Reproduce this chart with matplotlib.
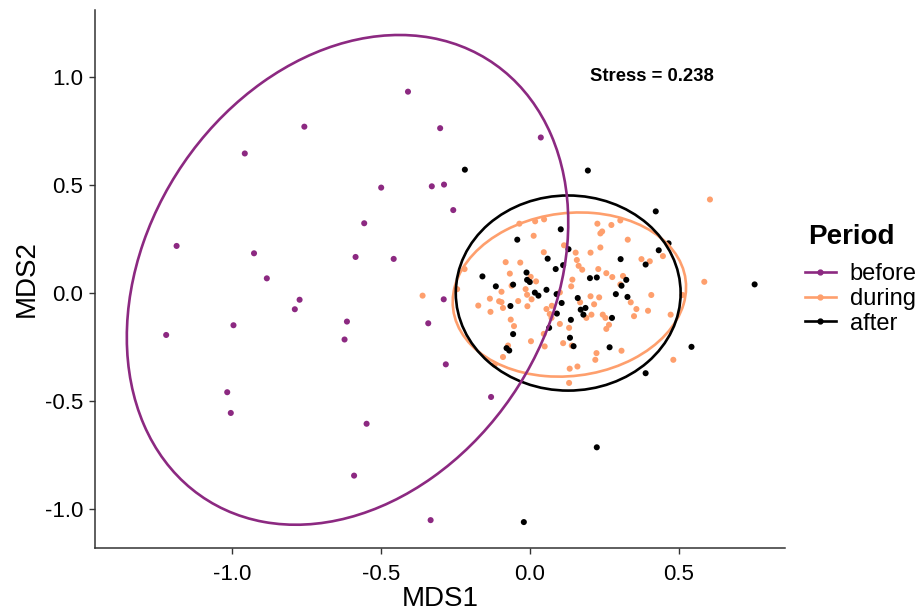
import matplotlib
matplotlib.use("Agg")
import matplotlib.pyplot as plt
from matplotlib.patches import Ellipse
from matplotlib.lines import Line2D

plt.rcParams['font.family'] = ['Liberation Sans', 'DejaVu Sans']

periods = ["before", "during", "after"]
colors = {"before": "#8C2981", "during": "#FE9F6D", "after": "#000000"}

before_x = [-0.409, -0.757, -0.301, -0.957, -0.499, -0.329, -0.288, -0.556, -1.186, -0.926,
            -0.585, -0.457, -0.883, 0.037, -0.257, -0.773, -0.789, -0.289, -0.995, -1.221,
            -0.614, -0.622, -0.341, -0.282, -1.016, -1.004, -0.548, -0.590, -0.333, -0.130]
before_y = [0.932, 0.770, 0.763, 0.646, 0.488, 0.494, 0.502, 0.323, 0.218, 0.184,
            0.167, 0.158, 0.068, 0.720, 0.384, -0.031, -0.075, -0.029, -0.149, -0.194,
            -0.132, -0.215, -0.140, -0.330, -0.459, -0.555, -0.605, -0.845, -1.051, -0.481]

during_x = [0.605, -0.035, 0.018, 0.048, 0.227, 0.274, 0.304, 0.243, 0.237, 0.013,
            0.115, 0.329, 0.237, 0.047, 0.204, 0.154, 0.158, 0.375, 0.403, 0.447,
            -0.081, -0.032, -0.219, 0.164, 0.176, 0.230, 0.257, 0.277, 0.313, -0.067,
            0.003, 0.021, 0.143, 0.139, 0.304, -0.061, -0.014, -0.095, 0.101, 0.586,
            0.408, -0.360, -0.134, -0.103, -0.095, -0.039, 0.006, -0.009, -0.173, -0.090,
            -0.132, -0.008, 0.056, 0.074, 0.067, 0.073, -0.064, -0.053, 0.101, 0.132,
            0.047, 0.004, 0.050, 0.112, 0.141, -0.073, -0.090, -0.118, 0.134, 0.132,
            0.204, 0.233, 0.169, 0.216, 0.339, 0.358, 0.397, 0.190, 0.207, 0.245,
            0.254, 0.350, 0.473, 0.266, 0.257, 0.308, 0.224, 0.220, 0.160, 0.482,
            -0.244, 0.513]
during_y = [0.433, 0.321, 0.332, 0.341, 0.321, 0.315, 0.336, 0.285, 0.276, 0.265,
            0.221, 0.247, 0.211, 0.189, 0.187, 0.187, 0.153, 0.157, 0.147, 0.171,
            0.143, 0.141, 0.111, 0.126, 0.108, 0.111, 0.092, 0.074, 0.079, 0.090,
            0.075, 0.054, 0.062, 0.031, 0.040, 0.034, 0.018, 0.006, 0.003, 0.052,
            -0.009, -0.012, -0.026, -0.038, -0.042, -0.037, -0.029, -0.008, -0.058, -0.069,
            -0.087, -0.061, -0.074, -0.059, -0.097, -0.115, -0.123, -0.153, -0.143, -0.161,
            -0.189, -0.223, -0.247, -0.232, -0.243, -0.243, -0.296, -0.332, -0.350, -0.416,
            -0.015, -0.020, -0.043, -0.052, -0.043, -0.074, -0.082, -0.115, -0.100, -0.100,
            -0.115, -0.107, -0.100, -0.147, -0.166, -0.267, -0.278, -0.309, -0.340, -0.309,
            0.018, -0.009]

after_x = [-0.218, 0.195, 0.423, 0.104, -0.042, 0.466, 0.130, 0.433, 0.060, 0.305,
           0.112, 0.389, 0.087, -0.159, -0.011, -0.009, 0.000, 0.202, 0.225, 0.324,
           -0.056, -0.114, 0.056, 0.308, 0.755, 0.017, 0.029, 0.090, 0.289, 0.328,
           0.161, 0.107, 0.171, 0.187, 0.180, -0.065, 0.091, 0.276, 0.138, 0.065,
           -0.056, 0.135, 0.147, 0.268, -0.078, -0.069, 0.543, 0.389, 0.225, -0.020]
after_y = [0.571, 0.567, 0.378, 0.295, 0.247, 0.230, 0.203, 0.198, 0.159, 0.157,
           0.129, 0.132, 0.111, 0.077, 0.095, 0.061, 0.051, 0.069, 0.072, 0.061,
           0.039, 0.031, 0.015, 0.034, 0.040, 0.002, -0.012, -0.005, -0.005, -0.018,
           -0.023, -0.046, -0.077, -0.069, -0.100, -0.060, -0.095, -0.115, -0.124, -0.161,
           -0.190, -0.207, -0.246, -0.251, -0.255, -0.266, -0.249, -0.371, -0.714, -1.060]

# 95% ellipse summaries (center x, center y, full width, full height, angle in degrees)
ell_cx = {"before": -0.612, "during": 0.133, "after": 0.129}
ell_cy = {"before": 0.061, "during": -0.007, "after": 0.000}
ell_w = {"before": 2.310, "during": 0.808, "after": 0.755}
ell_h = {"before": 1.414, "during": 0.734, "after": 0.903}
ell_ang = {"before": 75.9, "during": 35.6, "after": 0.0}

stress_label = "Stress = 0.238"

xs = {"before": before_x, "during": during_x, "after": after_x}
ys = {"before": before_y, "during": during_y, "after": after_y}

fig = plt.figure(figsize=(9.2, 6.1), dpi=100)
ax = fig.add_axes([95 / 920, 1 - 548 / 610, (785 - 95) / 920, (548 - 10) / 610])

for p in periods:
    ax.scatter(xs[p], ys[p], s=19, color=colors[p], edgecolors='none', zorder=2)

for p in ["during", "after", "before"]:
    e = Ellipse((ell_cx[p], ell_cy[p]), ell_w[p], ell_h[p], angle=ell_ang[p],
                fill=False, edgecolor=colors[p], lw=1.9, zorder=3)
    ax.add_patch(e)

ax.text(0.41, 1.0, stress_label, ha='center', va='center', fontsize=13.3,
        fontweight='bold', color='black')

ax.set_xlim(-1.46, 0.857)
ax.set_ylim(-1.18, 1.31)
ax.set_xticks([-1.0, -0.5, 0.0, 0.5])
ax.set_yticks([-1.0, -0.5, 0.0, 0.5, 1.0])
ax.set_xticklabels(["-1.0", "-0.5", "0.0", "0.5"])
ax.set_yticklabels(["-1.0", "-0.5", "0.0", "0.5", "1.0"])
ax.tick_params(axis='both', labelsize=16, length=4.5, width=1, color='#333333',
               labelcolor='black')
ax.tick_params(axis='x', pad=7)
ax.tick_params(axis='y', pad=4)
for s in ['top', 'right']:
    ax.spines[s].set_visible(False)
for s in ['left', 'bottom']:
    ax.spines[s].set_linewidth(1.1)
    ax.spines[s].set_color('#333333')
ax.set_xlabel("MDS1", fontsize=20, labelpad=0.5)
ax.set_ylabel("MDS2", fontsize=20, labelpad=4)

fig.text(808 / 920, 1 - 237 / 610, "Period", fontsize=20, fontweight='bold',
         ha='left', va='center')
handles = [Line2D([], [], color=colors[p], lw=1.9, marker='o', markersize=3.5) for p in periods]
leg = fig.legend(handles, periods, loc='upper left',
                 bbox_to_anchor=(805 / 920, 1 - 263 / 610), frameon=False,
                 fontsize=17, handlelength=1.3, handletextpad=0.6, labelspacing=0.12,
                 borderaxespad=0, borderpad=0)

fig.savefig("out.png", dpi=100, facecolor='white')
